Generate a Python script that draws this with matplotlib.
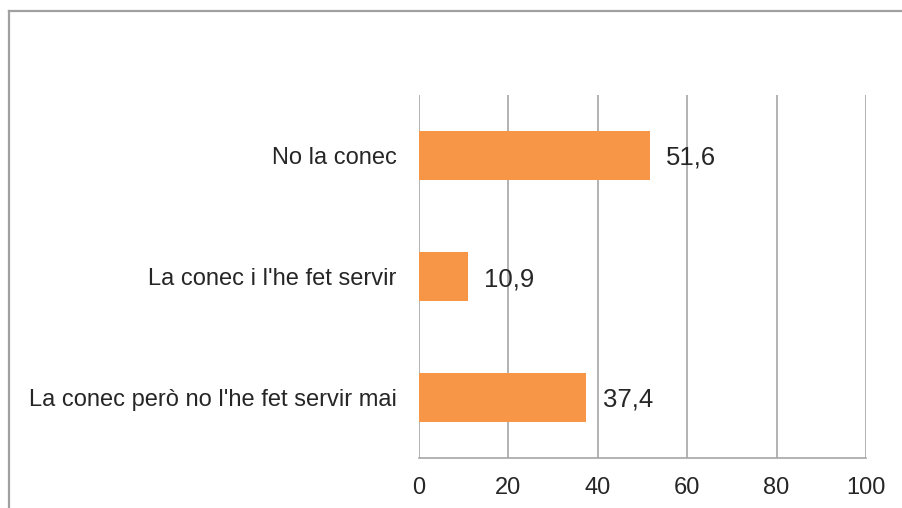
import numpy as np
import matplotlib.pyplot as plt
from matplotlib.lines import Line2D

# data (bottom to top, as drawn)
categories = ["La conec però no l'he fet servir mai", "La conec i l'he fet servir", "No la conec"]
values = [37.4, 10.9, 51.6]
xticks = [0, 20, 40, 60, 80, 100]

plt.rcParams['font.family'] = ['Liberation Sans', 'DejaVu Sans']
grid_clr = "#a6a6a6"
bar_clr = "#f79646"
txt_clr = "#262626"

fig = plt.figure(figsize=(9.03, 5.08), dpi=100)
ax = fig.add_axes([419 / 903, 1 - 458 / 508, (866 - 419) / 903, (458 - 95) / 508])

pos = np.arange(len(categories))
bars = ax.barh(pos, values, height=0.4, color=bar_clr, zorder=3)

# value labels with comma decimals
for b, v in zip(bars, values):
    ax.annotate(f"{v:.1f}".replace('.', ','), (b.get_width(), b.get_y() + b.get_height() / 2),
                xytext=(12, 0), textcoords="offset points", ha="left", va="center_baseline",
                fontsize=18.5, color=txt_clr, zorder=4)

ax.set_xlim(0, 100)
ax.set_ylim(-0.5, len(categories) - 0.5)
ax.set_xticks(xticks)
ax.set_yticks(pos)
ax.set_yticklabels(categories)
ax.tick_params(axis="both", length=0, labelsize=17, colors=txt_clr)
ax.tick_params(axis="y", pad=16)
ax.tick_params(axis="x", pad=14)
ax.grid(axis="x", color=grid_clr, linewidth=1.2, zorder=0)

for s in ["top", "right", "left"]:
    ax.spines[s].set_visible(False)
ax.spines["bottom"].set_color(grid_clr)
ax.spines["bottom"].set_linewidth(1.2)

# chart frame (only top and left edges are visible in the crop)
fig.add_artist(Line2D([8.5 / 903, 8.5 / 903], [0, 1 - 11 / 508], color="#a0a0a0", linewidth=1.6))
fig.add_artist(Line2D([8.5 / 903, 1], [1 - 11 / 508, 1 - 11 / 508], color="#a0a0a0", linewidth=1.6))

fig.savefig("out.png", dpi=100)
